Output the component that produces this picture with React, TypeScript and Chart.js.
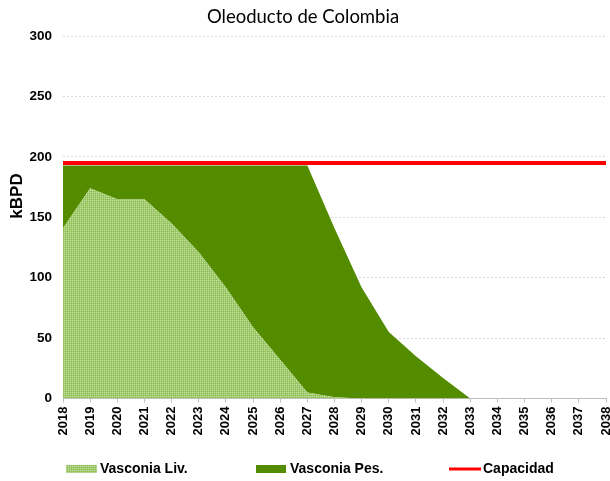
import React, { useEffect, useRef } from "react";
import { Chart, registerables } from "chart.js";

Chart.register(...registerables);

const years = ["2018", "2019", "2020", "2021", "2022", "2023", "2024", "2025", "2026", "2027", "2028", "2029", "2030", "2031", "2032", "2033", "2034", "2035", "2036", "2037", "2038"];
const vasconiaLiv = [141, 174, 165, 165, 145, 121, 92, 59, 32, 5, 1, 0, 0, 0, 0, 0, 0, 0, 0, 0, 0];
const vasconiaPes = [52, 19, 28, 28, 48, 72, 101, 134, 161, 188, 140, 92, 55, 35, 17, 0, 0, 0, 0, 0, 0];
const capacidad = [195, 195, 195, 195, 195, 195, 195, 195, 195, 195, 195, 195, 195, 195, 195, 195, 195, 195, 195, 195, 195];
const chartTitle = "Oleoducto de Colombia";
const yAxisTitle = "kBPD";

const GREEN = "#548C00";
const RED = "#FF0000";
const BOLD = "bold 14px 'Liberation Sans', Arial, sans-serif";

function makePattern(): CanvasPattern | string {
  const c = document.createElement("canvas");
  c.width = 2;
  c.height = 2;
  const g = c.getContext("2d");
  if (!g) return "#A2CB70";
  g.fillStyle = "#C4E0A0";
  g.fillRect(0, 0, 1, 1);
  g.fillStyle = "#A0CA6C";
  g.fillRect(1, 0, 1, 1);
  g.fillRect(0, 1, 1, 1);
  g.fillStyle = "#8EBE56";
  g.fillRect(1, 1, 1, 1);
  const p = g.createPattern(c, "repeat");
  return p || "#A2CB70";
}

export default function App() {
  const ref = useRef<HTMLCanvasElement | null>(null);

  useEffect(() => {
    const canvas = ref.current;
    if (!canvas) return;
    const pattern = makePattern();

    const extras = {
      id: "extras",
      afterDraw(chart: any) {
        const ctx = chart.ctx as CanvasRenderingContext2D;
        ctx.save();
        ctx.fillStyle = "#000";
        ctx.font = "bold 17px 'Liberation Sans', Arial, sans-serif";
        ctx.textAlign = "center";
        ctx.textBaseline = "middle";
        ctx.translate(17, 196);
        ctx.rotate(-Math.PI / 2);
        ctx.fillText(yAxisTitle, 0, 0);
        ctx.restore();

        ctx.save();
        const ds = chart.data.datasets;
        const cy = 469;
        ctx.font = BOLD;
        ctx.textAlign = "left";
        ctx.textBaseline = "middle";
        ctx.fillStyle = pattern as any;
        ctx.fillRect(66, cy - 4, 31, 8);
        ctx.fillStyle = "#000";
        ctx.fillText(ds[1].label, 100, cy);
        ctx.fillStyle = GREEN;
        ctx.fillRect(256, cy - 4, 30, 8);
        ctx.fillStyle = "#000";
        ctx.fillText(ds[2].label, 290, cy);
        ctx.strokeStyle = RED;
        ctx.lineWidth = 3;
        ctx.beginPath();
        ctx.moveTo(449, cy);
        ctx.lineTo(481, cy);
        ctx.stroke();
        ctx.fillStyle = "#000";
        ctx.fillText(ds[0].label, 483, cy);
        ctx.restore();
      },
    };

    const chart = new Chart(canvas, {
      type: "line",
      data: {
        labels: years,
        datasets: [
          {
            label: "Capacidad",
            data: capacidad,
            borderColor: RED,
            backgroundColor: RED,
            borderWidth: 4,
            pointRadius: 0,
            fill: false,
            stack: "cap",
            tension: 0,
          },
          {
            label: "Vasconia Liv.",
            data: vasconiaLiv,
            borderWidth: 0,
            borderColor: "rgba(0,0,0,0)",
            backgroundColor: pattern as any,
            pointRadius: 0,
            fill: "origin",
            stack: "prod",
            tension: 0,
          },
          {
            label: "Vasconia Pes.",
            data: vasconiaPes,
            borderWidth: 0,
            borderColor: "rgba(0,0,0,0)",
            backgroundColor: GREEN,
            pointRadius: 0,
            fill: 1,
            stack: "prod",
            tension: 0,
          },
        ],
      },
      options: {
        animation: false,
        responsive: false,
        devicePixelRatio: 1,
        layout: { padding: { top: 0, right: 4, bottom: 42.5, left: 0 } },
        plugins: {
          legend: { display: false },
          tooltip: { enabled: false },
          title: {
            display: true,
            text: chartTitle,
            color: "#000",
            font: { family: "Lato, 'Open Sans', sans-serif", size: 18.5, weight: "normal" },
            padding: { top: 6, bottom: 8 },
          },
        },
        scales: {
          x: {
            type: "category",
            offset: false,
            grid: {
              display: true,
              drawOnChartArea: false,
              drawTicks: true,
              tickLength: 4,
              color: "#BFBFBF",
            },
            border: { display: true, color: "#BFBFBF", width: 1 },
            ticks: {
              autoSkip: false,
              minRotation: 90,
              maxRotation: 90,
              padding: 4,
              color: "#000",
              font: { family: "'Liberation Sans', Arial, sans-serif", size: 13, weight: "bold" },
            },
            afterFit: (scale: any) => {
              scale.height = 40;
              scale.paddingRight = 0;
              scale.paddingLeft = 0;
            },
          },
          y: {
            stacked: true,
            min: 0,
            max: 300,
            grid: { color: "#D9D9D9", drawTicks: false, lineWidth: 1 },
            border: { display: false, dash: [2, 2] },
            ticks: {
              stepSize: 50,
              padding: 11,
              color: "#000",
              font: { family: "'Liberation Sans', Arial, sans-serif", size: 13.5, weight: "bold" },
            },
            afterFit: (scale: any) => {
              scale.width = 63;
            },
          },
        },
      },
      plugins: [extras],
    });

    return () => chart.destroy();
  }, []);

  return (
    <div style={{ position: "fixed", left: 0, top: 0, width: 610, height: 481, background: "#fff" }}>
      <canvas ref={ref} width={610} height={481} style={{ display: "block" }} />
    </div>
  );
}
